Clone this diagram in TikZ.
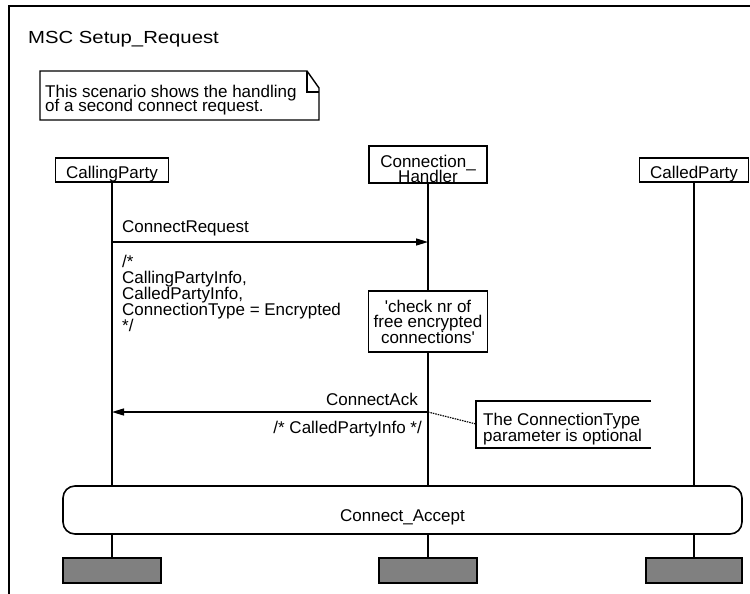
\documentclass[tikz,border=0pt]{standalone}
\usepackage{fontspec}
\usepackage{graphicx}
\setmainfont{Liberation Sans}
\usetikzlibrary{arrows.meta}
\newcommand{\fs}[1]{\fontsize{17}{#1}\selectfont\lineskiplimit=-20pt\relax}
\begin{document}
\begin{tikzpicture}[x=1pt,y=-1pt,
  every node/.style={inner sep=0pt, font=\fs{16}},
  ln/.style={line width=1.4pt},
  msg/.style={line width=1.4pt,-{Triangle[length=12pt,width=7pt]}},
  headbox/.style={draw,line width=1.6pt,minimum height=24pt,text height=20pt,text depth=4pt,anchor=base},
  endbox/.style={draw,line width=1.6pt,fill=black!50,minimum height=25pt},
  txt/.style={align=left}]
\useasboundingbox (0,0) rectangle (750,594);
\clip (0,0) rectangle (750,594);
% frame
\draw[line width=1.7pt] (9,6) rectangle (770,620);
\node[anchor=base west] (title) at (28,44) {\scalebox{1.16}[1]{\fontsize{17.5}{18}\selectfont MSC Setup\_Request}};
% note
\draw[ln] (40,71) -- (307,71) -- (319,88) -- (319,120) -- (40,120) -- cycle;
\draw[ln] (307,71) -- (307,92) -- (319,92);
\node[anchor=north west, txt, font=\fs{14}] (note) at (45,84.5)
  {This scenario shows the handling\\of a second connect request.};
% instance heads
\node[headbox, minimum width=113pt] (cp) at (112,178) {CallingParty};
\node[draw,line width=1.6pt,minimum width=118pt,minimum height=37pt] (chbox) at (428,164.5) {};
\node[anchor=north, align=center, font=\fs{15}] (ch) at (428,154.7) {Connection\_\\Handler};
\node[headbox, minimum width=109pt] (cd) at (694,178) {CalledParty};
% action
\node[draw,line width=1.6pt,minimum width=119pt,minimum height=61pt,align=center,
  font=\fs{15.5}] (act) at (428,321.5)
  {\textquotesingle check nr of\\free encrypted\\connections\textquotesingle};
% connect accept reference
\node[draw,line width=1.6pt,rounded corners=12pt,minimum width=679pt,minimum height=48pt,
  text height=35pt,text depth=13pt,anchor=base] (ca) at (402.5,521) {Connect\_Accept};
% end boxes
\node[endbox, minimum width=98pt] (cpe) at (112,570.5) {};
\node[endbox, minimum width=98pt] (che) at (428,570.5) {};
\node[endbox, minimum width=96pt] (cde) at (694,570.5) {};
% lifelines
\draw[ln] (cp.south) -- (cp.south |- ca.north);
\draw[ln] (cp.south |- ca.south) -- (cpe.north);
\draw[ln] (chbox.south) -- (act.north);
\draw[ln] (act.south) -- (act.south |- ca.north);
\draw[ln] (act.south |- ca.south) -- (che.north);
\draw[ln] (cd.south) -- (cd.south |- ca.north);
\draw[ln] (cd.south |- ca.south) -- (cde.north);
% messages
\coordinate (m1s) at (112,242);
\coordinate (m1e) at (428,242);
\draw[msg] (m1s) -- (m1e);
\node[anchor=base west] (m1l) at (122,232) {ConnectRequest};
\node[anchor=north west, txt] (m1p) at (122,254.6)
  {/*\\CallingPartyInfo,\\CalledPartyInfo,\\ConnectionType = Encrypted\\*/};
\coordinate (m2s) at (428,412);
\coordinate (m2e) at (112,412);
\draw[msg] (m2s) -- (m2e);
\node[anchor=base east] (m2l) at (418,405) {ConnectAck};
\node[anchor=base east] (m2p) at (422,433) {/* CalledPartyInfo */};
% comment
\coordinate (cmA) at (651,401);
\coordinate (cmB) at (476,401);
\coordinate (cmC) at (476,448);
\coordinate (cmD) at (651,448);
\draw[ln] (cmA) -- (cmB) -- (cmC) -- (cmD);
\coordinate (cmM) at (476,424);
\draw[line width=1.2pt, dash pattern=on 1.5pt off 1pt] (m2s) -- (cmM);
\node[anchor=north west, txt] (cm) at (483,412.6) {The ConnectionType\\parameter is optional};
\end{tikzpicture}
\end{document}
